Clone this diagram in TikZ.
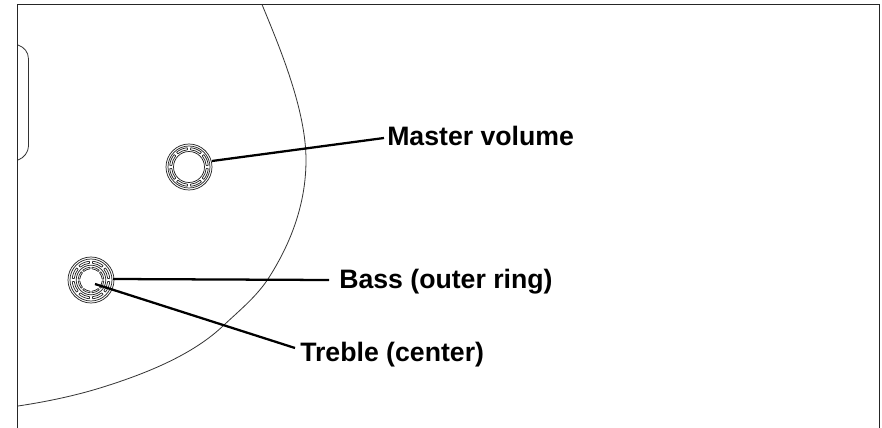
\documentclass[tikz,border=0pt]{standalone}
\usepackage{fontspec}
\setmainfont{Liberation Sans}
\tikzset{
  lbl/.style={font=\fontsize{20pt}{22pt}\selectfont\bfseries,anchor=base west,inner sep=0pt,text=black},
  leader/.style={line width=1.7pt,black},
  thin line/.style={line width=0.6pt,black!80},
  ring/.style={line width=0.55pt,black!85},
}
\newcommand{\notchring}[3]{% center, r1, r2
  \foreach \a in {0,45,...,315}{
    \draw[ring] (#1)++(\a+5:#2) arc[start angle=\a+5,end angle=\a+40,radius=#2];
    \draw[ring] (#1)++(\a+5:#3) arc[start angle=\a+5,end angle=\a+40,radius=#3];
    \draw[ring] (#1)++(\a+5:#2) -- ++(\a+5:#3-#2);
    \draw[ring] (#1)++(\a+40:#2) -- ++(\a+40:#3-#2);
  }}
\begin{document}
\begin{tikzpicture}[x=0.75pt,y=-0.75pt]
\useasboundingbox (0,0) rectangle (882,428);
\fill[white] (0,0) rectangle (882,428);
\coordinate (fl) at (17.5,428);
\coordinate (tl) at (17.5,4.5);
\coordinate (tr) at (879.5,4.5);
\coordinate (br) at (879.5,428);
\draw[line width=1.1pt,black!85] (fl) -- (tl) -- (tr) -- (br);
\draw[thin line] (18,45) .. controls (24,47) and (28.5,52) .. (28.5,59) -- (28.5,146) .. controls (28.5,152) and (24,158) .. (18,160);
\draw[thin line] (262,4.5) .. controls (280,48) and (306,110) .. (306,160)
  .. controls (306,205) and (290,245) .. (268,279)
  .. controls (256,297) and (240,310) .. (224,325)
  .. controls (192,356) and (142,375) .. (100,388)
  .. controls (74,396) and (45,402) .. (18,406);
% master knob
\coordinate (mk) at (189,167);
\draw[ring] (mk) circle[radius=23];
\draw[ring] (mk) circle[radius=21];
\notchring{mk}{17.3}{19.3}
\draw[ring] (mk) circle[radius=15.5];
% bass / treble knob
\coordinate (bk) at (91,280);
\draw[ring] (bk) circle[radius=23];
\draw[ring] (bk) circle[radius=21];
\notchring{bk}{16.8}{18.8}
\draw[ring] (bk) circle[radius=14.8];
\notchring{bk}{11.2}{12.8}
% labels
\node[lbl] (m) at (387,146) {Master volume};
\node[lbl] (b) at (339,288.5) {Bass (outer ring)};
\node[lbl] (t) at (300,361.5) {Treble (center)};
\coordinate (me) at (212,161);
\coordinate (be) at (113,279);
\coordinate (te) at (95,284);
\coordinate (mm) at (384,138);
\coordinate (bm) at (329,280);
\coordinate (tm) at (295,348);
\draw[leader] (me) -- (mm);
\draw[leader] (be) -- (bm);
\draw[leader] (te) -- (tm);
\end{tikzpicture}
\end{document}
